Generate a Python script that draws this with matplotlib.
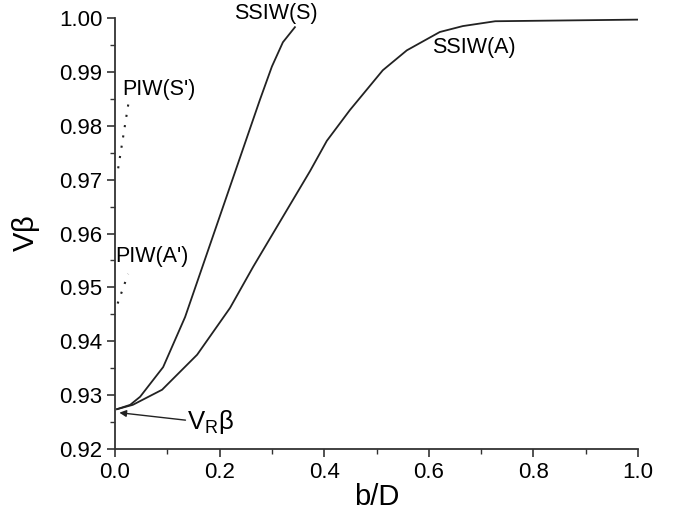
import numpy as np
import matplotlib.pyplot as plt
from matplotlib.ticker import MultipleLocator

plt.rcParams['font.family'] = ['Liberation Sans', 'DejaVu Sans']

# SSIW(S) curve
ssiw_s_x = [0.004, 0.029, 0.048, 0.092, 0.134, 0.277, 0.300, 0.321, 0.344]
ssiw_s_y = [0.9274, 0.9282, 0.9297, 0.9352, 0.9445, 0.9848, 0.9910, 0.9955, 0.9983]

# SSIW(A) curve
ssiw_a_x = [0.004, 0.034, 0.090, 0.157, 0.220, 0.264, 0.373, 0.405, 0.449,
            0.512, 0.558, 0.621, 0.665, 0.727, 1.0]
ssiw_a_y = [0.9274, 0.9282, 0.9310, 0.9375, 0.9462, 0.9538, 0.9716, 0.9772, 0.9829,
            0.9903, 0.9940, 0.9974, 0.9985, 0.9994, 0.9997]

# PIW dotted segments
piw_s_x = [0.006, 0.027]
piw_s_y = [0.9721, 0.9850]
piw_a_x = [0.005, 0.025]
piw_a_y = [0.9470, 0.9525]

vr_beta = 0.9268

fig = plt.figure(figsize=(6.79, 5.28), dpi=100)
ax = fig.add_axes([0.1694, 0.1496, 0.7702, 0.8163])

ax.plot(ssiw_s_x, ssiw_s_y, color='#222222', lw=1.3)
ax.plot(ssiw_a_x, ssiw_a_y, color='#222222', lw=1.3)
ax.plot(piw_s_x, piw_s_y, color='#222222', lw=1.5, ls=(0, (1, 4)))
ax.plot(piw_a_x, piw_a_y, color='#222222', lw=1.5, ls=(0, (1, 4)))

ax.set_xlim(0, 1.0)
ax.set_ylim(0.92, 1.0)
ax.xaxis.set_major_locator(MultipleLocator(0.2))
ax.xaxis.set_minor_locator(MultipleLocator(0.1))
ax.yaxis.set_major_locator(MultipleLocator(0.01))
ax.yaxis.set_minor_locator(MultipleLocator(0.005))
ax.xaxis.set_major_formatter(lambda v, p: f'{v:.1f}')
ax.yaxis.set_major_formatter(lambda v, p: f'{v:.2f}')

for s in ['top', 'right']:
    ax.spines[s].set_visible(False)
for s in ['left', 'bottom']:
    ax.spines[s].set_linewidth(1.3)
    ax.spines[s].set_color('#333333')
ax.tick_params(which='major', direction='out', length=6, width=1.2, labelsize=16, colors='#333333',
               labelcolor='black', pad=3)
ax.tick_params(which='minor', direction='out', length=3.5, width=1.0, colors='#333333')

ax.set_xlabel('b/D', fontsize=21, labelpad=0)
ax.set_ylabel(r'V$\mathregular{\beta}$', fontsize=21, labelpad=12)

ax.text(0.228, 1.0008, 'SSIW(S)', fontsize=15.5, ha='left', va='center', clip_on=False)
ax.text(0.607, 0.9945, 'SSIW(A)', fontsize=15.5, ha='left', va='center')
ax.text(0.014, 0.9867, "PIW(S')", fontsize=15.5, ha='left', va='center')
ax.text(0.000, 0.9558, "PIW(A')", fontsize=15.5, ha='left', va='center')

ax.annotate('', xy=(0.003, vr_beta), xytext=(0.140, 0.9253),
            arrowprops=dict(arrowstyle='-|>', color='#222222', lw=1.0, mutation_scale=10))
ax.text(0.138, 0.9250, r'V$_\mathregular{R}$$\mathregular{\beta}$', fontsize=18.5, ha='left', va='center')

fig.savefig('out.png', dpi=100)
